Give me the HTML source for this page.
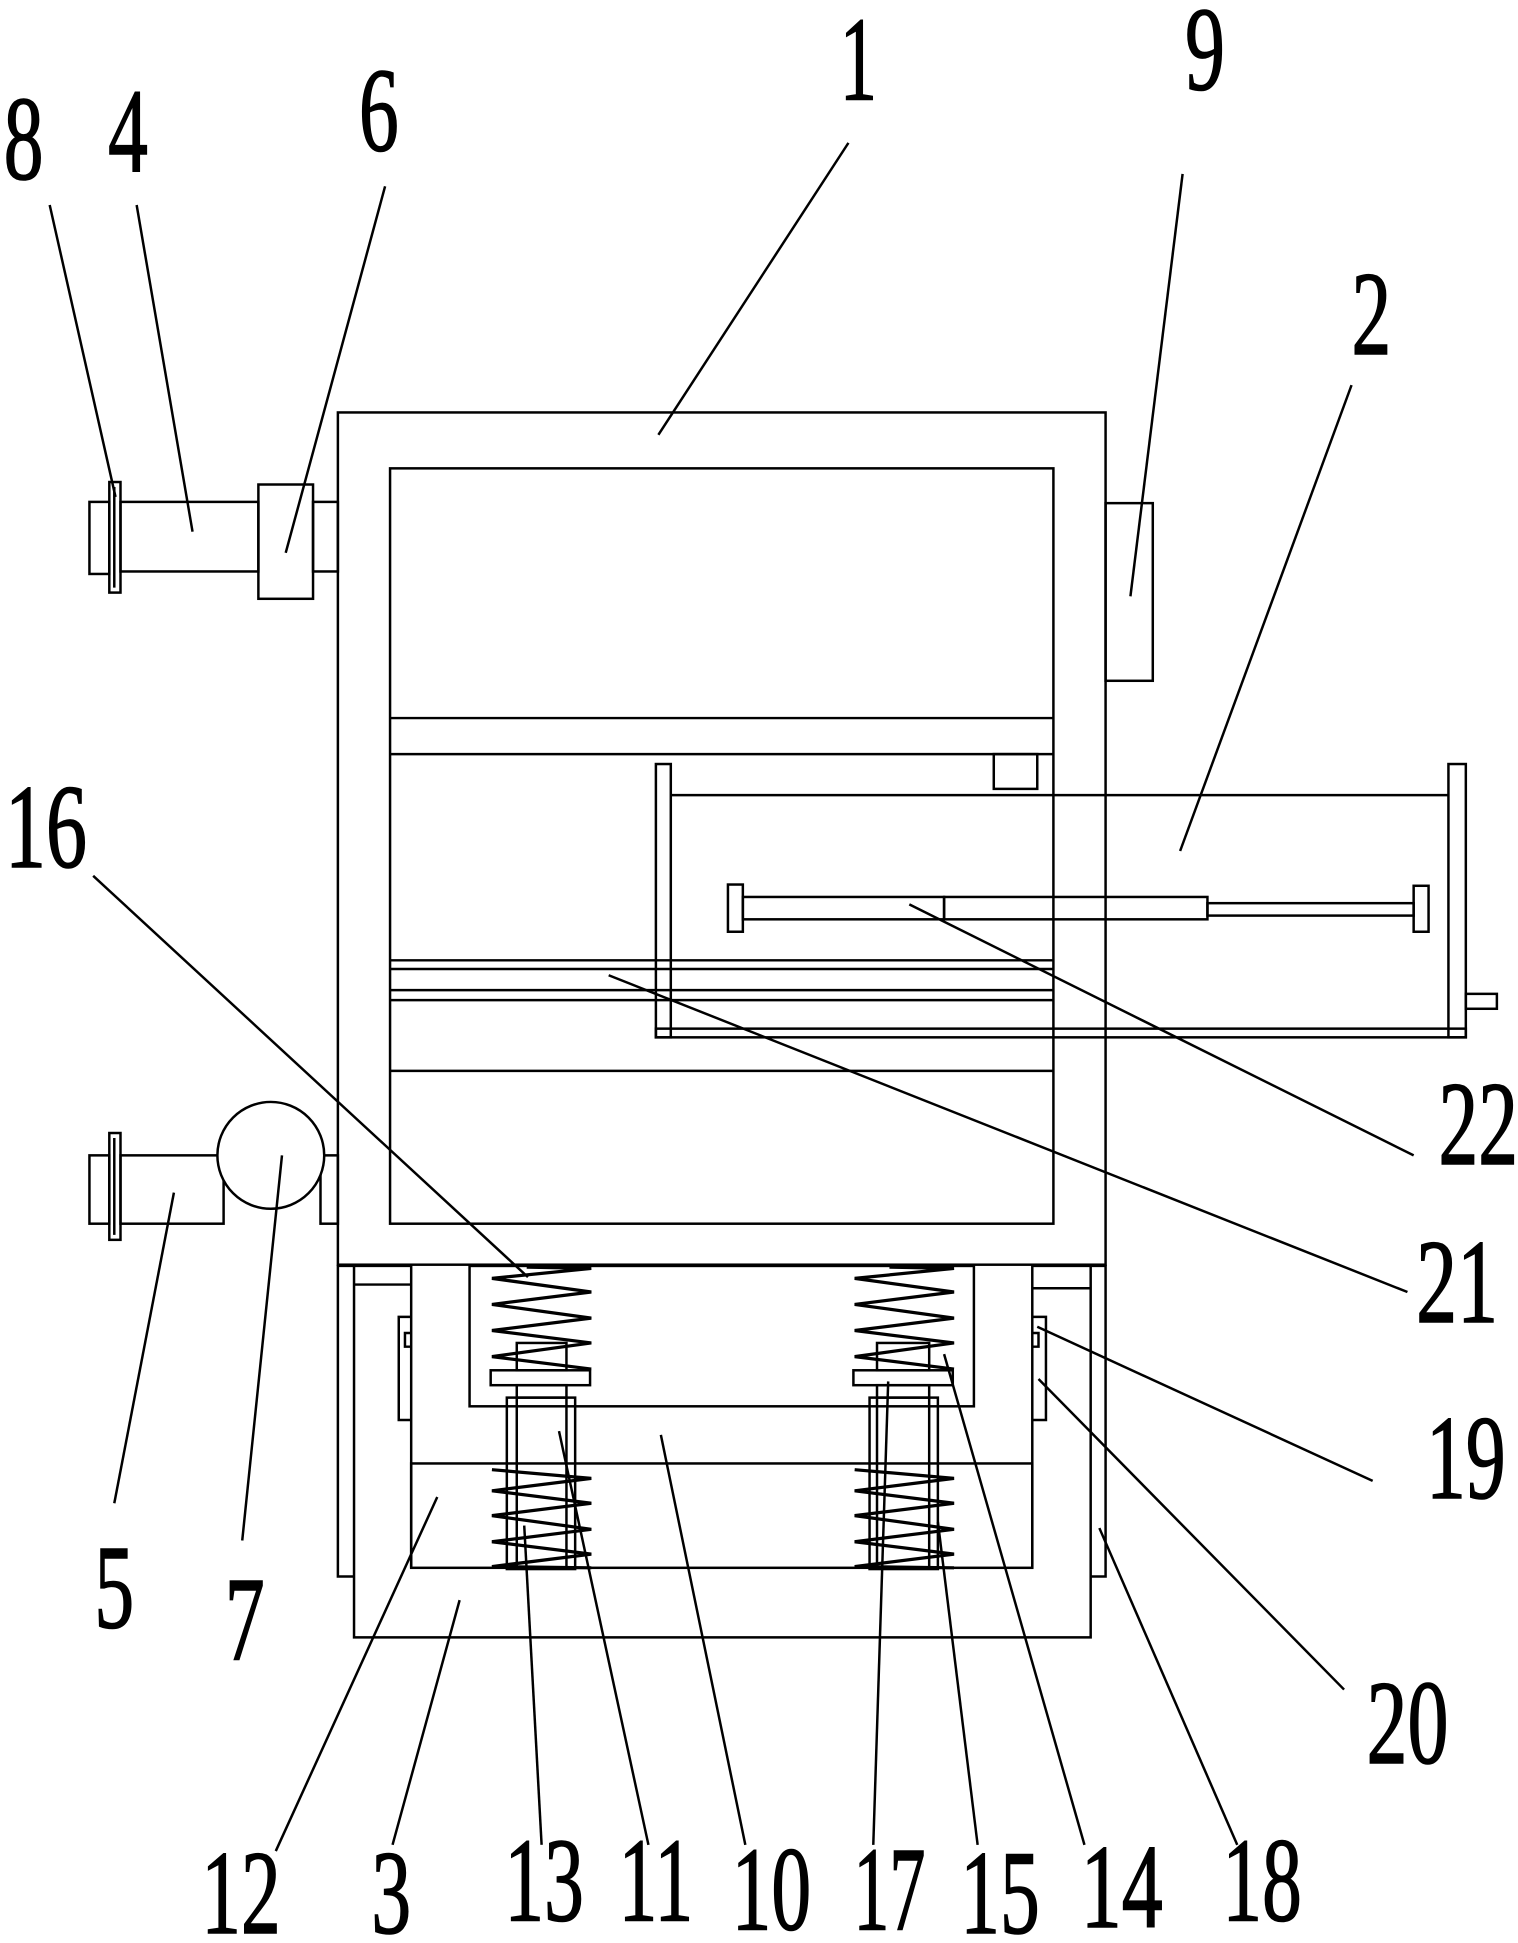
<!DOCTYPE html>
<html><head><meta charset="utf-8"><style>
html,body{margin:0;padding:0;background:#fff;}
svg{display:block;}
text{font-family:"Liberation Serif",serif;font-size:96px;fill:#000;stroke:#000;stroke-width:1.2;}
</style></head><body>
<svg width="1518" height="1943" viewBox="0 0 1222 1564" preserveAspectRatio="none" xmlns="http://www.w3.org/2000/svg">
<g fill="none" stroke="#000" stroke-width="2">
<rect x="272" y="332" width="618" height="686"/>
<rect x="314" y="377" width="534" height="608"/>
<line x1="314" y1="578" x2="848" y2="578"/>
<line x1="314" y1="607" x2="848" y2="607"/>
<line x1="314" y1="773" x2="848" y2="773"/>
<line x1="314" y1="780" x2="848" y2="780"/>
<line x1="314" y1="797" x2="848" y2="797"/>
<line x1="314" y1="805" x2="848" y2="805"/>
<line x1="314" y1="862" x2="848" y2="862"/>
<rect x="890" y="405" width="38" height="143"/>
<line x1="540" y1="640" x2="1166" y2="640"/>
<rect x="528" y="828" width="652" height="7"/>
<rect x="528" y="615" width="12" height="220"/>
<rect x="1166" y="615" width="14" height="220"/>
<rect x="800" y="607" width="35" height="28"/>
<rect x="1180" y="800" width="25" height="12"/>
<rect x="586" y="712" width="12" height="38"/>
<rect x="598" y="722" width="162" height="18"/>
<rect x="760" y="722" width="212" height="18"/>
<rect x="972" y="727" width="166" height="10"/>
<rect x="1138" y="713" width="12" height="37"/>
<rect x="72" y="404" width="16" height="58"/>
<rect x="88" y="388" width="9" height="89"/>
<rect x="97" y="404" width="111" height="56"/>
<rect x="208" y="390" width="44" height="92"/>
<rect x="252" y="404" width="20" height="56"/>
<line x1="92" y1="392" x2="92" y2="473"/>
<rect x="72" y="930" width="16" height="55"/>
<rect x="88" y="912" width="9" height="86"/>
<line x1="92" y1="916" x2="92" y2="994"/>
<rect x="97" y="930" width="83" height="55"/>
<rect x="258" y="930" width="14" height="55"/>
<circle cx="218" cy="930" r="43" fill="#fff"/>
<polyline points="272,1018 272,1269 285,1269"/>
<polyline points="890,1018 890,1269 878,1269"/>
<polyline points="272,1019 331,1019 331,1262"/>
<polyline points="890,1019 831,1019 831,1262"/>
<polyline points="285,1019 285,1318 878,1318 878,1019"/>
<line x1="285" y1="1034" x2="331" y2="1034"/>
<line x1="831" y1="1037" x2="878" y2="1037"/>
<rect x="331" y="1178" width="500" height="84"/>
<rect x="378" y="1019" width="406" height="113"/>
<polyline points="331,1060 321,1060 321,1143 331,1143"/>
<polyline points="331,1073 326,1073 326,1084 331,1084"/>
<polyline points="831,1060 842,1060 842,1143 831,1143"/>
<polyline points="831,1073 836,1073 836,1084 831,1084"/>
<rect x="416" y="1081" width="40" height="22"/>
<rect x="395" y="1103" width="80" height="12"/>
<rect x="416" y="1115" width="40" height="10"/>
<rect x="408" y="1125" width="55" height="138"/>
<line x1="416" y1="1125" x2="416" y2="1262"/>
<line x1="456" y1="1125" x2="456" y2="1262"/>
<rect x="706" y="1081" width="42" height="22"/>
<rect x="687" y="1103" width="80" height="12"/>
<rect x="706" y="1115" width="42" height="10"/>
<rect x="700" y="1125" width="55" height="138"/>
<line x1="706" y1="1125" x2="706" y2="1262"/>
<line x1="748" y1="1125" x2="748" y2="1262"/>
</g>
<g fill="none" stroke="#000" stroke-width="2.6">
<polyline points="424,1020 476,1021 396,1029 476,1040 396,1050 476,1061 396,1071 476,1081 396,1092 476,1102"/>
<polyline points="716,1020 768,1021 688,1029 768,1040 688,1050 768,1061 688,1071 768,1081 688,1092 768,1102"/>
<polyline points="396,1183 476,1190 396,1200 476,1210 396,1220 476,1231 396,1241 476,1251 396,1261 476,1262"/>
<polyline points="688,1183 768,1190 688,1200 768,1210 688,1220 768,1231 688,1241 768,1251 688,1261 768,1262"/>
</g>
<g fill="none" stroke="#000" stroke-width="2">
<line x1="40" y1="165" x2="93" y2="400"/>
<line x1="110" y1="165" x2="155" y2="428"/>
<line x1="310" y1="150" x2="230" y2="445"/>
<line x1="683" y1="115" x2="530" y2="350"/>
<line x1="952" y1="140" x2="910" y2="480"/>
<line x1="1088" y1="310" x2="950" y2="685"/>
<line x1="75" y1="705" x2="425" y2="1028"/>
<line x1="1138" y1="930" x2="732" y2="728"/>
<line x1="1133" y1="1040" x2="490" y2="785"/>
<line x1="1105" y1="1192" x2="835" y2="1068"/>
<line x1="92" y1="1210" x2="140" y2="960"/>
<line x1="195" y1="1240" x2="227" y2="930"/>
<line x1="1082" y1="1360" x2="836" y2="1110"/>
<line x1="222" y1="1490" x2="352" y2="1205"/>
<line x1="316" y1="1485" x2="370" y2="1288"/>
<line x1="436" y1="1485" x2="422" y2="1228"/>
<line x1="522" y1="1485" x2="450" y2="1152"/>
<line x1="600" y1="1485" x2="532" y2="1155"/>
<line x1="703" y1="1485" x2="715" y2="1112"/>
<line x1="787" y1="1485" x2="755" y2="1225"/>
<line x1="873" y1="1485" x2="760" y2="1090"/>
<line x1="996" y1="1485" x2="885" y2="1230"/>
</g>
<g>
<text x="3" y="144" textLength="32" lengthAdjust="spacingAndGlyphs">8</text>
<text x="87" y="138" textLength="32" lengthAdjust="spacingAndGlyphs">4</text>
<text x="289" y="121" textLength="32" lengthAdjust="spacingAndGlyphs">6</text>
<text x="676" y="80" textLength="30" lengthAdjust="spacingAndGlyphs">1</text>
<text x="954" y="72" textLength="32" lengthAdjust="spacingAndGlyphs">9</text>
<text x="1088" y="285" textLength="32" lengthAdjust="spacingAndGlyphs">2</text>
<text x="4" y="698" textLength="66" lengthAdjust="spacingAndGlyphs">16</text>
<text x="1158" y="937" textLength="64" lengthAdjust="spacingAndGlyphs">22</text>
<text x="1140" y="1064" textLength="66" lengthAdjust="spacingAndGlyphs">21</text>
<text x="1148" y="1206" textLength="64" lengthAdjust="spacingAndGlyphs">19</text>
<text x="76" y="1310" textLength="32" lengthAdjust="spacingAndGlyphs">5</text>
<text x="181" y="1336" textLength="32" lengthAdjust="spacingAndGlyphs">7</text>
<text x="1100" y="1419" textLength="66" lengthAdjust="spacingAndGlyphs">20</text>
<text x="162" y="1556" textLength="64" lengthAdjust="spacingAndGlyphs">12</text>
<text x="299" y="1556" textLength="32" lengthAdjust="spacingAndGlyphs">3</text>
<text x="406" y="1546" textLength="64" lengthAdjust="spacingAndGlyphs">13</text>
<text x="498" y="1546" textLength="60" lengthAdjust="spacingAndGlyphs">11</text>
<text x="589" y="1553" textLength="64" lengthAdjust="spacingAndGlyphs">10</text>
<text x="687" y="1553" textLength="58" lengthAdjust="spacingAndGlyphs">17</text>
<text x="773" y="1556" textLength="64" lengthAdjust="spacingAndGlyphs">15</text>
<text x="870" y="1551" textLength="66" lengthAdjust="spacingAndGlyphs">14</text>
<text x="984" y="1546" textLength="64" lengthAdjust="spacingAndGlyphs">18</text>
</g>
</svg>
</body></html>
